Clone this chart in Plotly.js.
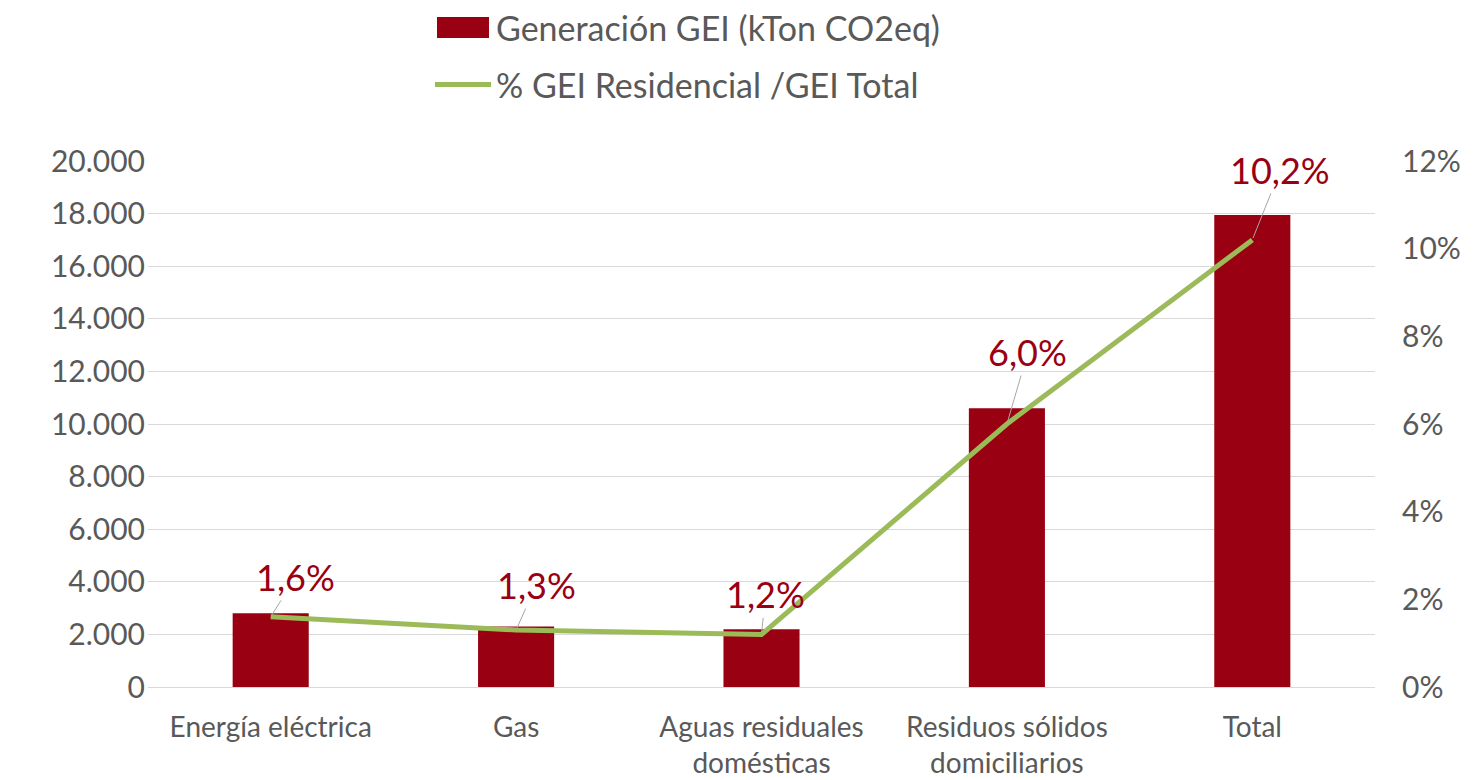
<!DOCTYPE html>
<html><head><meta charset="utf-8">
<script src="https://cdn.plot.ly/plotly-3.0.1.min.js"></script>
<style>html,body{margin:0;padding:0;background:#fff}#chart{width:1475px;height:780px}</style>
</head><body><div id="chart"></div>
<script>
var categories = ["Energía eléctrica", "Gas", "Aguas residuales<br>domésticas", "Residuos sólidos<br>domiciliarios", "Total"];
var gei = [2800, 2300, 2200, 10600, 17950];
var pct = [1.6, 1.3, 1.2, 6.0, 10.2];
var barName = "Generación GEI (kTon CO2eq)";
var lineName = "% GEI Residencial /GEI Total";
var labelOffsets = [[25,-40],[20,-45],[4,-40],[21,-72],[28,-70]];

var font = "Lato, 'Open Sans', sans-serif";
var traces = [
  {type:'bar', x:categories, y:gei, name:barName, marker:{color:'#990012'}, width:0.31, hoverinfo:'skip', legend:'legend'},
  {type:'scatter', mode:'lines', x:categories, y:pct, name:lineName, yaxis:'y2', line:{color:'#9BBB59', width:5}, hoverinfo:'skip', legend:'legend2'}
];
var annotations = categories.map(function(c,i){
  return {x:c, y:pct[i], xref:'x', yref:'y2', text:pct[i].toFixed(1).replace('.',',')+'%',
    showarrow:true, arrowhead:0, arrowwidth:1, arrowcolor:'#a6a6a6', ax:labelOffsets[i][0], ay:labelOffsets[i][1],
    font:{family:font, size:36, color:'#990012'}, standoff:2};
});
var layout = {
  width:1475, height:780, separators:',.',
  margin:{l:148, r:100, t:161, b:93, autoexpand:false},
  paper_bgcolor:'#fff', plot_bgcolor:'#fff',
  font:{family:font, color:'#595959', size:30},
  xaxis:{tickfont:{size:28, color:'#595959'}, showline:true, linecolor:'#d9d9d9', linewidth:1, ticks:'', ticklabelstandoff:15, fixedrange:true},
  yaxis:{range:[0,20000], dtick:2000, tickformat:',d', gridcolor:'#d9d9d9', zeroline:false, tickfont:{size:30, color:'#595959'}, ticks:'', ticklabelstandoff:2},
  yaxis2:{range:[0,12], dtick:2, ticksuffix:'%', overlaying:'y', side:'right', showgrid:false, zeroline:false, tickfont:{size:30, color:'#595959'}, ticks:'', ticklabelstandoff:26},
  legend:{orientation:'v', x:(430-148)/1227, xanchor:'left', y:(687-28)/526, yanchor:'middle', font:{size:34, color:'#595959'}, bgcolor:'rgba(0,0,0,0)', itemwidth:56},
  legend2:{orientation:'v', x:(430-148)/1227, xanchor:'left', y:(687-85)/526, yanchor:'middle', font:{size:34, color:'#595959'}, bgcolor:'rgba(0,0,0,0)', itemwidth:56},
  annotations:annotations,
  showlegend:true
};
Plotly.newPlot('chart', traces, layout, {displayModeBar:false, staticPlot:true}).then(function(gd){
  // widen the bar legend key to the reference's wide rectangle
  var p = gd.querySelector('.legend .legendpoints path');
  if (p) p.setAttribute('d', 'M-26,-10.5h52v21h-52Z');
});
</script></body></html>
